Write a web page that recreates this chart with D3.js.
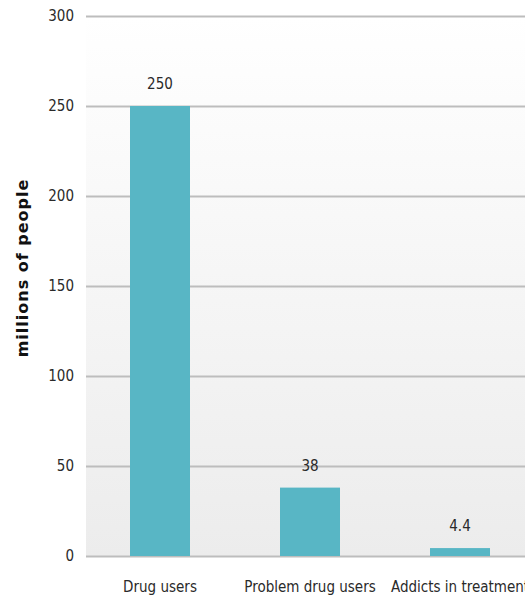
<!DOCTYPE html>
<html><head><meta charset="utf-8">
<script src="https://cdn.jsdelivr.net/npm/d3@7"></script>
<style>html,body{margin:0;padding:0;background:#fff;}svg{display:block;}</style>
</head><body>
<script>
const categories = ["Drug users", "Problem drug users", "Addicts in treatment"];
const values = [250, 38, 4.4];
const valueLabels = ["250", "38", "4.4"];
const yTicks = [0, 50, 100, 150, 200, 250, 300];
const yTitle = "millions of people";

const W = 525, H = 601;
const svg = d3.select("body").append("svg").attr("width", W).attr("height", H);
const defs = svg.append("defs");
const g1 = defs.append("linearGradient").attr("id","bg").attr("x1",0).attr("y1",0).attr("x2",0).attr("y2",1);
g1.append("stop").attr("offset","0%").attr("stop-color","#ffffff");
g1.append("stop").attr("offset","100%").attr("stop-color","#ececec");

const x = d3.scaleBand().domain(categories).range([85, 535]).paddingInner(0.6).paddingOuter(0.3);
const y = d3.scaleLinear().domain([0, 300]).range([556, 16]);

const font = "'Liberation Sans Narrow', 'DejaVu Sans Condensed', sans-serif";

svg.append("rect").attr("x", 86).attr("y", y(300)).attr("width", W - 86).attr("height", y(0) - y(300)).attr("fill", "url(#bg)");

const yAxis = d3.axisLeft(y).tickValues(yTicks).tickSize(-(W - 86)).tickPadding(12).tickFormat(d3.format("d"));
const ga = svg.append("g").attr("transform", "translate(86,0)").call(yAxis);
ga.select(".domain").remove();
ga.selectAll(".tick line").attr("stroke", "#bdbdbd").attr("stroke-width", 2);
ga.selectAll(".tick text").attr("font-family", font).attr("font-size", 15).attr("fill", "#2a2a2a");

svg.append("g").selectAll("rect").data(values).join("rect")
  .attr("x", (d, i) => x(categories[i]))
  .attr("width", x.bandwidth())
  .attr("y", d => y(d))
  .attr("height", d => y(0) - y(d))
  .attr("fill", "#58b6c5");

svg.append("g").selectAll("text").data(values).join("text")
  .attr("x", (d, i) => x(categories[i]) + x.bandwidth() / 2)
  .attr("y", d => y(d) - 17)
  .attr("text-anchor", "middle")
  .attr("font-family", font).attr("font-size", 15).attr("fill", "#2a2a2a")
  .text((d, i) => valueLabels[i]);

const xAxis = d3.axisBottom(x).tickSize(0).tickPadding(25);
const gx = svg.append("g").attr("transform", `translate(0,${y(0)})`).call(xAxis);
gx.select(".domain").remove();
gx.selectAll(".tick text").attr("font-family", font).attr("font-size", 15).attr("fill", "#2a2a2a");

svg.append("text")
  .attr("transform", `translate(28,${268}) rotate(-90)`)
  .attr("text-anchor", "middle")
  .attr("font-family", "'DejaVu Sans', sans-serif").attr("font-weight", "bold").attr("font-size", 16)
  .attr("letter-spacing", 1).attr("fill", "#111")
  .text(yTitle);
</script>
</body></html>
